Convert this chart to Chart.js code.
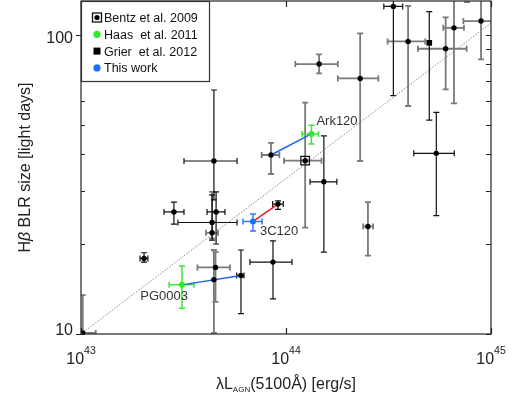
<!DOCTYPE html>
<html>
<head>
<meta charset="utf-8">
<script src="https://cdn.jsdelivr.net/npm/chart.js@4.4.1/dist/chart.umd.min.js"></script>
<style>
  html, body { margin: 0; padding: 0; background: #fff; }
</style>
</head>
<body>
<canvas id="myChart" width="512" height="399"></canvas>
<script>
// L in units of 1e43 erg/s, R in light days
// each row: [L, R, L_lo, L_hi, R_lo, R_hi]
var pg0003Haas  = [3.11, 14.6, 2.69, 3.56, 12.2, 16.9];
var pg0003Bentz = [6.03, 15.7, 5.75, 6.24, 11.7, 19.1];
var ark120Haas  = [13.3, 46.7, 12.0, 14.4, 43.2, 49.9];
var ark120Bentz = [8.45, 39.7, 7.61, 9.28, 34.3, 43.6];
var c3c120New   = [6.90, 23.8, 6.17, 7.64, 22.1, 25.2];
var c3c120Bentz = [9.14, 27.2, 8.61, 9.70, 26.1, 27.9];

var darkPts = [
  [2.03, 17.9, 1.94, 2.12, 17.4, 18.7],
  [2.84, 25.6, 2.54, 3.18, 23.3, 27.6],
  [4.45, 37.9, 3.18, 5.77, 28.1, 65.5],
  [4.56, 25.6, 4.12, 5.04, 20.0, 29.9],
  [4.36, 23.6, 2.97, 5.77, 20.6, 29.2],
  pg0003Bentz,
  [8.64, 17.4, 6.67, 10.7, 13.1, 20.5],
  c3c120Bentz,
  [15.3, 32.3, 13.1, 17.7, 18.8, 46.0],
  [33.4, 124.7, 30.0, 37.1, 62.7, 160],
  [54.1, 40.2, 42.0, 66.2, 24.9, 55.1]
];
var greyPts = [
  [1.02, 10.08, 0.9, 1.18, 9, 13.5],
  [4.36, 21.8, 4.07, 4.66, 20.9, 29.9],
  [4.53, 16.7, 3.70, 5.33, 12.8, 18.8],
  [4.45, 15.2, 4.45, 4.45, 10.08, 19.1],
  ark120Bentz,
  [14.5, 80.0, 11.1, 17.9, 74.5, 86.2],
  [23.0, 71.6, 17.9, 28.2, 37.9, 101.3],
  [39.4, 95.2, 31.3, 47.8, 57.9, 125.3],
  [60.1, 90.0, 44.0, 76.1, 65.8, 114.6],
  [66.0, 105.7, 58.5, 73.8, 59.1, 160],
  [89.4, 111.4, 73.3, 110, 82.9, 160],
  [25.1, 22.9, 23.8, 26.6, 18.3, 27.6],
  [76.4, 150, 76.4, 76.4, 128.9, 170]
];
var bentzBox  = [[12.4, 38.0, 9.78, 14.9, 22.7, 59.4]];
var grierPts  = [[50.0, 94.2, 50.0, 50.0, 51.9, 119.7]];
var haasPts   = [pg0003Haas, ark120Haas];
var thisWork  = [c3c120New];

// dotted relation, [L, R]
var fitLine = [[1, 10], [100, 109.6]];

var yTicks = [10, 20, 30, 40, 50, 60, 70, 80, 90, 100];
var yLabels = [10, 100];
var xTicks = [1e43, 1e44, 1e45];
var xExp = ['43', '44', '45'];

var FONT = '"Liberation Sans", Arial, sans-serif';
var INK = '#222';

function pts(rows) {
  return rows.map(function (r) { return {x: r[0] * 1e43, y: r[1]}; });
}

function drawBars(ctx, xs, ys, rows, color, width) {
  var cap = 3;
  ctx.strokeStyle = color;
  ctx.lineWidth = width;
  rows.forEach(function (r) {
    var x = xs.getPixelForValue(r[0] * 1e43), y = ys.getPixelForValue(r[1]);
    var x0 = xs.getPixelForValue(r[2] * 1e43), x1 = xs.getPixelForValue(r[3] * 1e43);
    var y0 = ys.getPixelForValue(r[4]), y1 = ys.getPixelForValue(r[5]);
    ctx.beginPath();
    if (r[3] > r[2]) {
      ctx.moveTo(x0, y); ctx.lineTo(x1, y);
      ctx.moveTo(x0, y - cap); ctx.lineTo(x0, y + cap);
      ctx.moveTo(x1, y - cap); ctx.lineTo(x1, y + cap);
    }
    if (r[5] > r[4]) {
      ctx.moveTo(x, y0); ctx.lineTo(x, y1);
      ctx.moveTo(x - cap, y0); ctx.lineTo(x + cap, y0);
      ctx.moveTo(x - cap, y1); ctx.lineTo(x + cap, y1);
    }
    ctx.stroke();
  });
}

var errorBars = {
  id: 'errorBars',
  beforeDatasetsDraw: function (chart) {
    var ctx = chart.ctx, a = chart.chartArea;
    var xs = chart.scales.x, ys = chart.scales.y;
    ctx.save();
    ctx.beginPath();
    ctx.rect(a.left, a.top, a.right - a.left, a.bottom - a.top);
    ctx.clip();
    drawBars(ctx, xs, ys, greyPts, '#7a7a7a', 1.8);
    drawBars(ctx, xs, ys, bentzBox, '#7a7a7a', 1.8);
    drawBars(ctx, xs, ys, darkPts, '#111', 1.2);
    drawBars(ctx, xs, ys, grierPts, '#111', 1.2);
    drawBars(ctx, xs, ys, haasPts, '#3be83b', 1.5);
    drawBars(ctx, xs, ys, thisWork, '#2f7bff', 1.5);
    ctx.restore();
  }
};

var frame = {
  id: 'frame',
  afterDraw: function (chart) {
    var ctx = chart.ctx, a = chart.chartArea;
    var xs = chart.scales.x, ys = chart.scales.y;
    ctx.save();
    ctx.strokeStyle = INK;
    ctx.fillStyle = INK;
    ctx.lineWidth = 1.2;
    ctx.strokeRect(a.left, a.top, a.right - a.left, a.bottom - a.top);

    // ticks
    ctx.beginPath();
    yTicks.forEach(function (v) {
      var y = Math.round(ys.getPixelForValue(v)) + 0.5;
      var major = yLabels.indexOf(v) >= 0;
      ctx.moveTo(a.left - (major ? 5 : 0), y); ctx.lineTo(a.left + 4, y);
      ctx.moveTo(a.right, y); ctx.lineTo(a.right - 5, y);
    });
    xTicks.forEach(function (v) {
      var x = Math.round(xs.getPixelForValue(v)) + 0.5;
      ctx.moveTo(x, a.bottom); ctx.lineTo(x, a.bottom - 6);
      ctx.moveTo(x, a.top); ctx.lineTo(x, a.top + 6);
    });
    ctx.stroke();

    // y tick labels
    ctx.font = '16px ' + FONT;
    ctx.textAlign = 'right';
    ctx.textBaseline = 'alphabetic';
    yLabels.forEach(function (v) {
      var y = ys.getPixelForValue(v);
      ctx.fillText(String(v), a.left - 8, Math.min(y + 8, a.bottom + 1));
    });

    // x tick labels 10^n
    ctx.textAlign = 'left';
    xTicks.forEach(function (v, i) {
      var x = xs.getPixelForValue(v);
      ctx.font = '16px ' + FONT;
      var w1 = ctx.measureText('10').width;
      ctx.font = '10.5px ' + FONT;
      var w2 = ctx.measureText(xExp[i]).width;
      var x0 = x - (w1 + w2) / 2;
      ctx.font = '16px ' + FONT;
      ctx.fillText('10', x0, 364);
      ctx.font = '10.5px ' + FONT;
      ctx.fillText(xExp[i], x0 + w1, 354);
    });

    // x title: λL_AGN(5100Å) [erg/s]
    var parts = [['λL', '16px ', 0], ['AGN', '8px ', 3], ['(5100Å) [erg/s]', '16px ', 0]];
    var tw = 0;
    parts.forEach(function (p) { ctx.font = p[1] + FONT; tw += ctx.measureText(p[0]).width; });
    var cx = (a.left + a.right) / 2 - tw / 2;
    parts.forEach(function (p) {
      ctx.font = p[1] + FONT;
      ctx.fillText(p[0], cx, 389 + p[2]);
      cx += ctx.measureText(p[0]).width;
    });

    // y title: Hβ BLR size [light days]
    var yparts = [['H', '16px '], ['β', 'italic 16px '], [' BLR size [light days]', '16px ']];
    tw = 0;
    yparts.forEach(function (p) { ctx.font = p[1] + FONT; tw += ctx.measureText(p[0]).width; });
    ctx.save();
    ctx.translate(30, (a.top + a.bottom) / 2);
    ctx.rotate(-Math.PI / 2);
    cx = -tw / 2;
    yparts.forEach(function (p) {
      ctx.font = p[1] + FONT;
      ctx.fillText(p[0], cx, 0);
      cx += ctx.measureText(p[0]).width;
    });
    ctx.restore();

    // object names
    ctx.font = '13px ' + FONT;
    ctx.fillStyle = '#333';
    var p;
    p = [xs.getPixelForValue(ark120Haas[0] * 1e43), ys.getPixelForValue(ark120Haas[1])];
    ctx.textAlign = 'left';
    ctx.fillText('Ark120', p[0] + 5, p[1] - 9);
    p = [xs.getPixelForValue(c3c120New[0] * 1e43), ys.getPixelForValue(c3c120New[1])];
    ctx.fillText('3C120', p[0] + 7, p[1] + 13.5);
    p = [xs.getPixelForValue(pg0003Haas[0] * 1e43), ys.getPixelForValue(pg0003Haas[1])];
    ctx.textAlign = 'right';
    ctx.fillText('PG0003', p[0] + 6, p[1] + 15.5);

    // legend box
    var lx = a.left, ly = a.top;
    ctx.fillStyle = '#fff';
    ctx.fillRect(lx, ly, 128, 80);
    ctx.strokeStyle = '#333';
    ctx.lineWidth = 1.2;
    ctx.strokeRect(lx + 0.5, ly + 0.5, 128, 80);
    var rows = ['Bentz et al. 2009', 'Haas  et al. 2011', 'Grier  et al. 2012', 'This work'];
    ctx.font = '12.5px ' + FONT;
    ctx.textAlign = 'left';
    ctx.textBaseline = 'middle';
    rows.forEach(function (t, i) {
      var cy = ly + 16.5 + i * 16.8;
      var mx = lx + 16;
      if (i === 0) {
        ctx.strokeStyle = '#111'; ctx.lineWidth = 1.3;
        ctx.strokeRect(mx - 4.5, cy - 4.5, 9, 9);
        ctx.fillStyle = '#000';
        ctx.beginPath(); ctx.arc(mx, cy, 2.6, 0, Math.PI * 2); ctx.fill();
      } else if (i === 1) {
        ctx.fillStyle = '#2ee82e';
        ctx.beginPath(); ctx.arc(mx, cy, 3.6, 0, Math.PI * 2); ctx.fill();
      } else if (i === 2) {
        ctx.fillStyle = '#000';
        ctx.fillRect(mx - 3.5, cy - 3.5, 7, 7);
      } else {
        ctx.fillStyle = '#1f6fff';
        ctx.beginPath(); ctx.arc(mx, cy, 3.6, 0, Math.PI * 2); ctx.fill();
      }
      ctx.fillStyle = '#111';
      ctx.fillText(t, lx + 23, cy + 1);
    });
    ctx.restore();
  }
};

function noPad(s) {
  s.paddingTop = 0; s.paddingBottom = 0; s.paddingLeft = 0; s.paddingRight = 0;
}

var ctx = document.getElementById('myChart').getContext('2d');
var myChart = new Chart(ctx, {
  type: 'scatter',
  data: {
    datasets: [
      {
        type: 'line', label: 'relation', order: 10,
        data: fitLine.map(function (r) { return {x: r[0] * 1e43, y: r[1]}; }),
        borderColor: '#8a8a8a', borderWidth: 1, borderDash: [1.5, 1.5], pointRadius: 0
      },
      { type: 'line', label: 'PG0003', order: 5, data: pts([pg0003Haas, pg0003Bentz]), borderColor: '#1f62ee', borderWidth: 1.5, pointRadius: 0 },
      { type: 'line', label: 'Ark120', order: 5, data: pts([ark120Bentz, ark120Haas]), borderColor: '#1f62ee', borderWidth: 1.5, pointRadius: 0 },
      { type: 'line', label: '3C120', order: 5, data: pts([c3c120New, c3c120Bentz]), borderColor: '#ee1a1a', borderWidth: 1.5, pointRadius: 0 },
      { label: 'dark', order: 1, data: pts(darkPts), backgroundColor: '#000', borderWidth: 0, pointRadius: 2.7 },
      { label: 'grey', order: 1, data: pts(greyPts), backgroundColor: '#000', borderWidth: 0, pointRadius: 2.7 },
      { label: 'Bentz et al. 2009', order: 1, data: pts(bentzBox), backgroundColor: '#000', borderWidth: 0, pointRadius: 2.7 },
      { label: 'Bentz box', order: 0, data: pts(bentzBox), pointStyle: 'rect', backgroundColor: 'rgba(0,0,0,0)', borderColor: '#111', borderWidth: 1.3, pointRadius: 6 },
      { label: 'Grier et al. 2012', order: 0, data: pts(grierPts), pointStyle: 'rect', backgroundColor: '#000', borderWidth: 0, pointRadius: 4 },
      { label: 'Haas et al. 2011', order: 0, data: pts(haasPts), backgroundColor: '#2ee82e', borderWidth: 0, pointRadius: 3 },
      { label: 'This work', order: 0, data: pts(thisWork), backgroundColor: '#1f6fff', borderWidth: 0, pointRadius: 3 }
    ]
  },
  options: {
    responsive: false,
    animation: false,
    devicePixelRatio: 1,
    layout: { autoPadding: false, padding: { left: 0, right: 21, top: 1, bottom: 0 } },
    plugins: { legend: { display: false }, tooltip: { enabled: false } },
    scales: {
      x: {
        type: 'logarithmic', min: 1e43, max: 1e45,
        grid: { display: false }, border: { display: false }, ticks: { display: false },
        afterFit: function (s) { s.height = 65; noPad(s); }
      },
      y: {
        type: 'logarithmic', min: 10, max: 130,
        grid: { display: false }, border: { display: false }, ticks: { display: false },
        afterFit: function (s) { s.width = 81; noPad(s); }
      }
    }
  },
  plugins: [errorBars, frame]
});
</script>
</body>
</html>
